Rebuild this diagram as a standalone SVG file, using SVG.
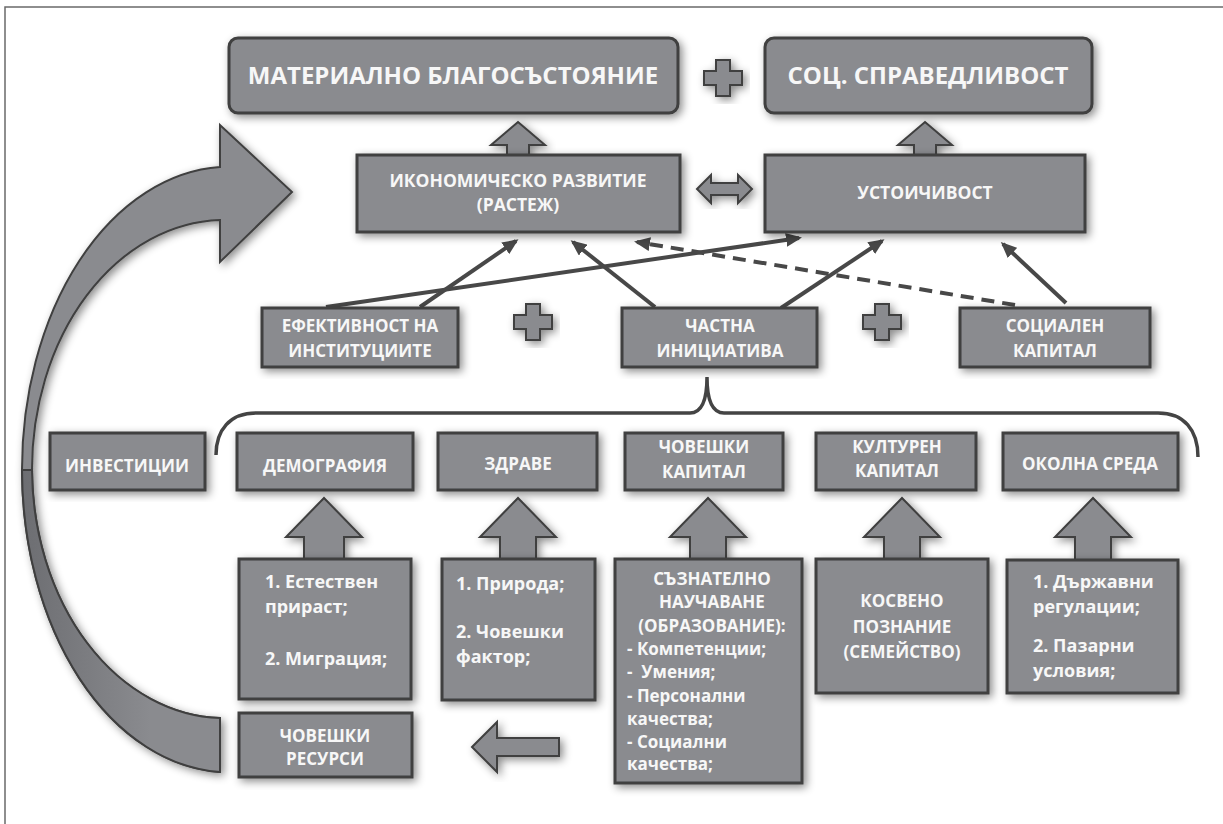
<svg xmlns="http://www.w3.org/2000/svg" width="1223" height="824" viewBox="0 0 1223 824">
<defs>
<filter id="sh" x="-20%" y="-20%" width="140%" height="140%">
<feDropShadow dx="3" dy="3" stdDeviation="4" flood-color="#000" flood-opacity="0.45"/>
</filter>
<linearGradient id="under" gradientUnits="userSpaceOnUse" x1="20" y1="0" x2="150" y2="0">
<stop offset="0" stop-color="#6c6d71"/>
<stop offset="1" stop-color="#8a8b8f"/>
</linearGradient>
<marker id="ah" viewBox="0 0 16 14" markerWidth="16" markerHeight="14" refX="13" refY="7" orient="auto" markerUnits="userSpaceOnUse">
<path d="M0,0 L16,7 L0,14 Z" fill="#484848"/>
</marker>
</defs>
<style>
.box{fill:#8a8b8f;stroke:#3f3f3f;stroke-width:3;filter:url(#sh)}
.blk{fill:#8a8b8f;stroke:#3f3f3f;stroke-width:2;stroke-linejoin:miter;filter:url(#sh)}
.t{font-family:"Open Sans","Noto Sans","DejaVu Sans",sans-serif;font-weight:bold;fill:#f7f7f7;font-size:17px}
.c{text-anchor:middle}
.big{font-size:24px}
.b{font-size:17.5px}
.m{font-size:18px}
.ln{stroke:#484848;stroke-width:4;fill:none;marker-end:url(#ah)}
.ds{stroke-dasharray:13 8}
</style>
<rect width="1223" height="824" fill="#fff"/>
<path d="M5,824 V7 H1223" fill="none" stroke="#6a6a6a" stroke-width="1.5"/>

<g id="curved-arrow">
<path class="blk" d="M220,167 A208,303 0 0 0 22,470 A208,303 0 0 0 220,772 L220,718 A193,250 0 0 1 32,470 A193,250 0 0 1 220,220 L220,262 L292,192 L220,125 Z"/>
<path d="M22,470 A208,303 0 0 0 220,772 L220,718 A193,250 0 0 1 32,470 Z" fill="url(#under)" stroke="#3f3f3f" stroke-width="2"/>
</g>

<g id="block-arrows">
<path class="blk" d="M518,122 L545,145 L529,145 L529,158 L507,158 L507,145 L491,145 Z"/>
<path class="blk" d="M925,122 L952,145 L936,145 L936,158 L914,158 L914,145 L898,145 Z"/>
<path class="blk" d="M697,189 L711,175 L711,183 L738,183 L738,175 L752,189 L738,203 L738,195 L711,195 L711,203 Z"/>
<path class="blk" d="M324,498 L362,537 L344,537 L344,561 L304,561 L304,537 L286,537 Z"/>
<path class="blk" d="M518,498 L556,537 L536,537 L536,561 L500,561 L500,537 L480,537 Z"/>
<path class="blk" d="M708,498 L746,537 L726,537 L726,561 L690,561 L690,537 L670,537 Z"/>
<path class="blk" d="M902,498 L940,537 L920,537 L920,561 L884,561 L884,537 L864,537 Z"/>
<path class="blk" d="M1093,498 L1131,537 L1111,537 L1111,562 L1075,562 L1075,537 L1055,537 Z"/>
<path class="blk" d="M472,747 L497,722 L497,738 L559,738 L559,756 L497,756 L497,772 Z"/>
</g>

<g id="plus-signs">
<path class="blk" d="M716,60 H730 V71 H742 V85 H730 V96 H716 V85 H704 V71 H716 Z"/>
<path class="blk" d="M526,304 H540 V315 H552 V329 H540 V340 H526 V329 H514 V315 H526 Z"/>
<path class="blk" d="M875,304 H889 V315 H901 V329 H889 V340 H875 V329 H863 V315 H875 Z"/>
</g>

<g id="connectors">
<line class="ln" x1="420" y1="307" x2="516" y2="241"/>
<line class="ln" x1="326" y1="307" x2="799" y2="238"/>
<line class="ln" x1="655" y1="307" x2="573" y2="242"/>
<line class="ln" x1="781" y1="308" x2="882" y2="241"/>
<line class="ln ds" x1="1015" y1="305" x2="637" y2="242"/>
<line class="ln" x1="1066" y1="303" x2="1003" y2="244"/>
</g>

<g id="brace">
<path d="M216,455 C216,430 230,413 256,413 L690,413 C702,413 707,400 707,377 C707,400 712,413 724,413 L1158,413 C1184,413 1198,430 1198,457" fill="none" stroke="#444" stroke-width="3.5"/>
</g>

<g id="n-material">
<rect class="box" x="229" y="38" width="449" height="75" rx="9"/>
<text class="t c big" x="453" y="84">МАТЕРИАЛНО БЛАГОСЪСТОЯНИЕ</text>
</g>
<g id="n-justice">
<rect class="box" x="765" y="38" width="327" height="75" rx="9"/>
<text class="t c big" x="928" y="84">СОЦ. СПРАВЕДЛИВОСТ</text>
</g>
<g id="n-econ">
<rect class="box" x="357" y="155" width="323" height="77"/>
<text class="t c b" x="518" y="187">ИКОНОМИЧЕСКО РАЗВИТИЕ</text>
<text class="t c b" x="518" y="211">(РАСТЕЖ)</text>
</g>
<g id="n-sustain">
<rect class="box" x="765" y="155" width="320" height="77"/>
<text class="t c b" x="925" y="199">УСТОИЧИВОСТ</text>
</g>
<g id="n-inst">
<rect class="box" x="262" y="308" width="196" height="59"/>
<text class="t c" x="360" y="332">ЕФЕКТИВНОСТ НА</text>
<text class="t c" x="360" y="357">ИНСТИТУЦИИТЕ</text>
</g>
<g id="n-private">
<rect class="box" x="622" y="308" width="195" height="59"/>
<text class="t c" x="720" y="332">ЧАСТНА</text>
<text class="t c" x="720" y="357">ИНИЦИАТИВА</text>
</g>
<g id="n-social">
<rect class="box" x="960" y="308" width="190" height="59"/>
<text class="t c" x="1055" y="332">СОЦИАЛЕН</text>
<text class="t c" x="1055" y="357">КАПИТАЛ</text>
</g>

<g id="n-invest">
<rect class="box" x="50" y="433" width="155" height="57"/>
<text class="t c" x="127" y="472">ИНВЕСТИЦИИ</text>
</g>
<g id="n-demo">
<rect class="box" x="237" y="433" width="176" height="57"/>
<text class="t c" x="325" y="472">ДЕМОГРАФИЯ</text>
</g>
<g id="n-health">
<rect class="box" x="438" y="433" width="159" height="57"/>
<text class="t c" x="518" y="470">ЗДРАВЕ</text>
</g>
<g id="n-humancap">
<rect class="box" x="625" y="433" width="158" height="57"/>
<text class="t c" x="704" y="453">ЧОВЕШКИ</text>
<text class="t c" x="704" y="478">КАПИТАЛ</text>
</g>
<g id="n-culture">
<rect class="box" x="816" y="433" width="160" height="57"/>
<text class="t c" x="897" y="453">КУЛТУРЕН</text>
<text class="t c" x="897" y="477">КАПИТАЛ</text>
</g>
<g id="n-env">
<rect class="box" x="1003" y="433" width="175" height="57"/>
<text class="t c" x="1090" y="470">ОКОЛНА СРЕДА</text>
</g>

<g id="n-demo-detail">
<rect class="box" x="239" y="559" width="172" height="140"/>
<text class="t m" x="265" y="588">1. Естествен</text>
<text class="t m" x="265" y="613">прираст;</text>
<text class="t m" x="265" y="665">2. Миграция;</text>
</g>
<g id="n-health-detail">
<rect class="box" x="442" y="559" width="153" height="141"/>
<text class="t m" x="456" y="590">1. Природа;</text>
<text class="t m" x="456" y="638">2. Човешки</text>
<text class="t m" x="456" y="663">фактор;</text>
</g>
<g id="n-learning">
<rect class="box" x="615" y="559" width="187" height="224"/>
<text class="t c" x="712" y="585">СЪЗНАТЕЛНО</text>
<text class="t c" x="712" y="608">НАУЧАВАНЕ</text>
<text class="t c" x="712" y="632">(ОБРАЗОВАНИЕ):</text>
<text class="t" x="627" y="655">- Компетенции;</text>
<text class="t" x="627" y="678" xml:space="preserve">-  Умения;</text>
<text class="t" x="627" y="702">- Персонални</text>
<text class="t" x="627" y="725">качества;</text>
<text class="t" x="627" y="748">- Социални</text>
<text class="t" x="627" y="770">качества;</text>
</g>
<g id="n-indirect">
<rect class="box" x="816" y="559" width="172" height="134"/>
<text class="t c" x="902" y="607">КОСВЕНО</text>
<text class="t c" x="902" y="633">ПОЗНАНИЕ</text>
<text class="t c" x="902" y="658">(СЕМЕЙСТВО)</text>
</g>
<g id="n-env-detail">
<rect class="box" x="1007" y="560" width="171" height="133"/>
<text class="t m" x="1033" y="588">1. Държавни</text>
<text class="t m" x="1033" y="613">регулации;</text>
<text class="t m" x="1033" y="652">2. Пазарни</text>
<text class="t m" x="1033" y="677">условия;</text>
</g>
<g id="n-hr">
<rect class="box" x="239" y="713" width="173" height="64"/>
<text class="t c" x="325" y="742">ЧОВЕШКИ</text>
<text class="t c" x="325" y="765">РЕСУРСИ</text>
</g>
</svg>
